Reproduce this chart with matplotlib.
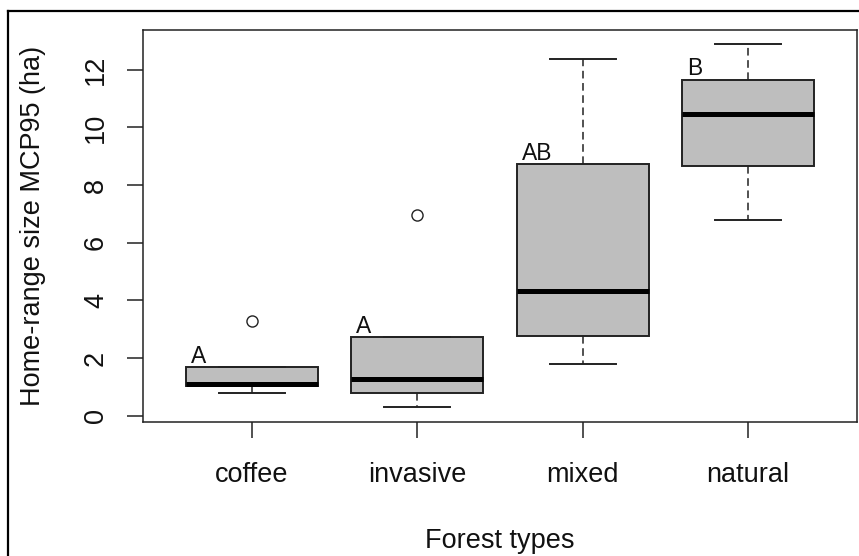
import matplotlib

matplotlib.use("Agg")
import matplotlib.pyplot as plt
from matplotlib.lines import Line2D

plt.rcParams["font.family"] = ["Liberation Sans", "DejaVu Sans"]

# box statistics (ha)
forest_types = ["coffee", "invasive", "mixed", "natural"]
whisker_low = [0.79, 0.30, 1.79, 6.78]
q1 = [1.02, 0.78, 2.77, 8.66]
median = [1.09, 1.27, 4.32, 10.45]
q3 = [1.69, 2.73, 8.72, 11.66]
whisker_high = [1.69, 2.73, 12.38, 12.88]
outliers = [[3.30], [6.97], [], []]
group_letters = ["A", "A", "AB", "B"]
y_ticks = [0, 2, 4, 6, 8, 10, 12]

W, H = 859, 556
fig = plt.figure(figsize=(W / 100, H / 100), dpi=100)
ax = fig.add_axes([143 / W, 1 - 422 / H, (857 - 143) / W, (422 - 30) / H])

stats = []
for i, name in enumerate(forest_types):
    stats.append({
        "label": name,
        "whislo": whisker_low[i],
        "q1": q1[i],
        "med": median[i],
        "q3": q3[i],
        "whishi": whisker_high[i],
        "fliers": outliers[i],
    })

line_col = "#222222"
positions = list(range(1, len(forest_types) + 1))
ax.bxp(
    stats,
    positions=positions,
    widths=0.8,
    capwidths=0.4,
    patch_artist=True,
    boxprops=dict(facecolor="#bebebe", edgecolor=line_col, linewidth=1.4),
    medianprops=dict(color="black", linewidth=3.6, solid_capstyle="butt"),
    whiskerprops=dict(color=line_col, linewidth=1.1, linestyle=(0, (5, 3))),
    capprops=dict(color=line_col, linewidth=1.4),
    flierprops=dict(marker="o", markerfacecolor="none", markeredgecolor=line_col,
                    markersize=8, markeredgewidth=1.0),
)

for i, letter in enumerate(group_letters):
    ax.text(positions[i] - 0.37, q3[i] + 0.15, letter, ha="left", va="baseline",
            fontsize=16.5, color="#111111")

ax.set_xlim(0.34, 4.66)
ax.set_ylim(-0.22, 13.38)
ax.set_xticks(positions)
ax.set_xticklabels(forest_types)
ax.set_yticks(y_ticks)
ax.set_yticklabels([str(v) for v in y_ticks], rotation=90, va="center")
ax.tick_params(axis="both", length=11.5, width=1.1, color=line_col,
               labelsize=19.5, labelcolor="#111111")
ax.tick_params(axis="x", pad=17)
ax.tick_params(axis="y", pad=13)
for sp in ax.spines.values():
    sp.set_linewidth(1.1)
    sp.set_color(line_col)

ax.set_xlabel("Forest types", fontsize=19.5, color="#111111", va="baseline")
ax.xaxis.set_label_coords(0.5, (422 - 548) / 392)
ax.set_ylabel("Home-range size MCP95 (ha)", fontsize=19.5, color="#111111", va="center")
ax.yaxis.set_label_coords((33 - 143) / 714, 0.5)

# frame around the picture (cropped at right and bottom)
fig.add_artist(Line2D([8 / W, 8 / W], [0, 1 - 11 / H], transform=fig.transFigure,
                      color="black", linewidth=1.6))
fig.add_artist(Line2D([8 / W, 1], [1 - 11 / H, 1 - 11 / H], transform=fig.transFigure,
                      color="black", linewidth=1.6))

fig.savefig("out.png", dpi=100)
